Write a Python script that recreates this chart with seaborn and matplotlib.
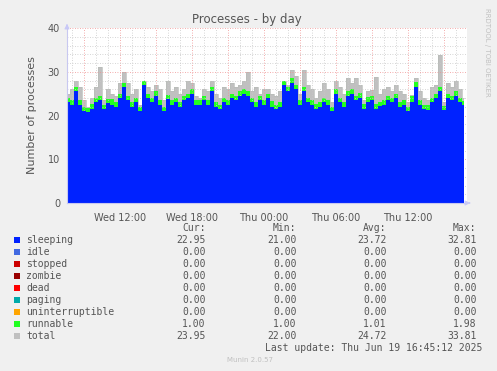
import numpy as np
import pandas as pd
import matplotlib
matplotlib.use("Agg")
import matplotlib.pyplot as plt
import matplotlib.dates as mdates
import seaborn as sns

# ---- data (20-minute samples) ----
sleeping = [23.0, 22.5, 25.5, 22.5, 21.0, 20.8, 21.5, 23.0, 23.5, 21.5,
            22.8, 22.5, 22.0, 24.0, 26.5, 23.5, 22.0, 23.0, 21.0, 27.0,
            24.0, 23.0, 24.5, 22.5, 21.0, 23.7, 22.5, 23.0, 22.0, 23.5,
            24.0, 25.0, 22.3, 22.3, 23.5, 22.5, 25.6, 22.0, 21.5, 23.0,
            22.5, 24.0, 23.5, 24.5, 25.0, 24.5, 23.0, 22.0, 23.5, 22.5,
            24.0, 22.0, 21.5, 22.0, 27.0, 25.5, 27.5, 26.0, 22.5, 25.5,
            23.0, 22.5, 21.6, 22.0, 23.0, 22.5, 21.0, 25.0, 23.0, 22.0,
            24.5, 25.0, 23.5, 24.0, 21.6, 23.0, 23.5, 21.6, 22.2, 22.5,
            23.5, 23.0, 24.0, 22.0, 22.5, 21.0, 23.2, 26.6, 22.5, 21.5,
            21.2, 23.0, 24.0, 25.5, 21.2, 24.0, 23.5, 24.5, 23.0, 22.4]
runnable = [1.0, 1.0, 1.0, 1.0, 1.0, 1.0, 1.2, 1.0, 1.0, 1.0,
            1.0, 1.3, 1.0, 1.0, 1.0, 1.0, 1.0, 1.0, 1.0, 1.0,
            1.0, 1.0, 1.0, 1.0, 1.0, 1.0, 1.0, 1.0, 1.0, 1.0,
            1.0, 1.0, 1.2, 1.2, 1.0, 1.0, 1.0, 1.0, 1.0, 1.0,
            1.0, 1.0, 1.0, 1.0, 1.0, 1.0, 1.0, 1.0, 1.0, 1.0,
            1.0, 1.3, 1.0, 1.0, 1.0, 1.0, 1.0, 1.0, 1.0, 1.0,
            1.0, 1.0, 1.0, 1.2, 1.0, 1.0, 1.0, 1.0, 1.0, 1.0,
            1.0, 1.0, 1.0, 1.2, 1.0, 1.2, 1.0, 1.0, 1.0, 1.0,
            1.0, 1.0, 1.0, 1.0, 1.0, 1.0, 1.3, 1.0, 1.0, 1.0,
            1.2, 1.0, 1.0, 1.0, 1.0, 1.0, 1.0, 1.0, 1.0, 1.0]
total = [25.0, 26.0, 28.0, 26.5, 23.5, 22.0, 24.0, 26.5, 31.0, 23.5,
         26.0, 25.0, 24.5, 27.5, 30.0, 27.5, 25.0, 26.0, 22.5, 28.0,
         26.5, 25.5, 27.0, 26.0, 23.5, 28.0, 25.5, 26.5, 25.0, 26.0,
         28.0, 27.5, 24.5, 24.0, 26.0, 25.5, 28.0, 25.0, 24.0, 26.5,
         26.0, 27.5, 26.5, 27.0, 28.0, 30.0, 25.5, 26.5, 25.0, 26.0,
         26.0, 25.0, 24.5, 25.5, 28.0, 27.0, 30.5, 29.0, 25.0, 30.5,
         27.0, 26.0, 24.0, 25.5, 27.5, 26.0, 23.0, 28.0, 26.5, 25.0,
         28.5, 27.5, 28.5, 27.0, 23.5, 25.5, 25.8, 28.9, 25.0, 26.0,
         26.5, 25.5, 27.0, 25.5, 25.0, 23.0, 24.8, 28.5, 25.5, 24.0,
         23.5, 26.5, 27.0, 33.8, 23.0, 27.5, 26.5, 28.0, 26.0, 23.95]
times = pd.date_range("2025-06-18 07:40", periods=len(sleeping), freq="20min")

names = ["sleeping", "idle", "stopped", "zombie", "dead", "paging",
         "uninterruptible", "runnable", "total"]
colors = ["#0022ff", "#4169e1", "#cc0000", "#990000", "#ff0000", "#00aaaa",
          "#ffa500", "#22ff22", "#c0c0c0"]
cur = ["22.95", "0.00", "0.00", "0.00", "0.00", "0.00", "0.00", "1.00", "23.95"]
mins = ["21.00", "0.00", "0.00", "0.00", "0.00", "0.00", "0.00", "1.00", "22.00"]
avgs = ["23.72", "0.00", "0.00", "0.00", "0.00", "0.00", "0.00", "1.01", "24.72"]
maxs = ["32.81", "0.00", "0.00", "0.00", "0.00", "0.00", "0.00", "1.98", "33.81"]

df = pd.DataFrame({"time": times, "sleeping": sleeping,
                   "runnable": runnable, "total": total})
df["stack"] = df["sleeping"] + df["runnable"]

sns.set_style("white")
plt.rcParams["font.family"] = ["DejaVu Sans"]

BG = "#f0f0f0"
TXT = "#555555"
fig = plt.figure(figsize=(4.97, 3.71), dpi=100, facecolor=BG)
ax = fig.add_axes([67 / 497, 1 - 203 / 371, 400 / 497, 175 / 371])
ax.set_facecolor("white")

# areas (munin-like stepped columns)
ax.fill_between(df["time"], 0, df["total"], color=colors[8], lw=0, zorder=1,
                step="mid")
ax.fill_between(df["time"], df["sleeping"], df["stack"], color=colors[7], lw=0,
                zorder=2, step="mid")
ax.fill_between(df["time"], 0, df["sleeping"], color=colors[0], lw=0, zorder=3,
                step="mid")
sns.lineplot(data=df, x="time", y="total", ax=ax, color="#b8bcb8", lw=0.5,
             zorder=1.5, drawstyle="steps-mid")

x0 = pd.Timestamp("2025-06-18 07:36")
x1 = pd.Timestamp("2025-06-19 16:56")
ax.set_xlim(x0, x1)
ax.set_ylim(0, 40)

# grid (drawn above data, munin style)
ax.xaxis.set_major_locator(mdates.HourLocator(byhour=range(0, 24, 3)))
ax.xaxis.set_minor_locator(mdates.HourLocator())
ax.set_yticks([0, 10, 20, 30, 40])
ax.set_yticks(np.arange(0, 41, 2), minor=True)
ax.grid(which="minor", color="#c8c8c8", ls=(0, (1, 2)), lw=0.6, zorder=5)
ax.grid(which="major", color="#f09090", ls=(0, (1, 2)), lw=0.6, zorder=6)
ax.set_axisbelow(False)

# tick labels every 6h
def fmt(v, pos):
    d = mdates.num2date(v)
    if d.hour % 6 == 0:
        return d.strftime("%a %H:%M")
    return ""
ax.xaxis.set_major_formatter(plt.FuncFormatter(fmt))
ax.tick_params(axis="both", which="both", labelsize=7, colors="#aaaaaa",
               labelcolor=TXT, length=2, width=0.6)
ax.tick_params(axis="x", which="major", pad=5, colors="#f08080", labelcolor=TXT)
ax.tick_params(axis="y", which="major", pad=3)

for s in ["top", "right"]:
    ax.spines[s].set_visible(False)
for s in ["left", "bottom"]:
    ax.spines[s].set_color("#c8c8f0")
    ax.spines[s].set_linewidth(0.8)
    ax.spines[s].set_zorder(7)
ax.set_xlabel("")
ax.set_ylabel("Number of processes", fontsize=8, color=TXT, labelpad=8)

# arrows at axis ends
ax.annotate("", xy=(0, 1.04), xytext=(0, 0.995), xycoords="axes fraction",
            arrowprops=dict(arrowstyle="-|>", color="#c8c8f8", lw=0.8,
                            mutation_scale=7), annotation_clip=False)
ax.annotate("", xy=(1.015, 0), xytext=(0.999, 0), xycoords="axes fraction",
            arrowprops=dict(arrowstyle="-|>", color="#c8c8f8", lw=0.8,
                            mutation_scale=7), annotation_clip=False)

# title & side text
fig.text(247 / 497, 1 - 19 / 371, "Processes - by day", ha="center", va="center",
         fontsize=8.5, color=TXT)
fig.text(487 / 497, 1 - 52 / 371, "RRDTOOL / TOBI OETIKER", ha="center",
         va="center", rotation=270, fontsize=5, color="#c0c0c0")

# legend table
mono = "DejaVu Sans Mono"
def fy(py):
    return 1 - py / 371
colx = [205.5, 296.5, 386.5, 476.5]
for cx, h in zip(colx, ["Cur:", "Min:", "Avg:", "Max:"]):
    fig.text(cx / 497, fy(228), h, ha="right", va="center", family=mono,
             fontsize=7, color=TXT)
for i, n in enumerate(names):
    py = 240 + 12 * i
    fig.patches.append(plt.Rectangle((14 / 497, fy(py + 3)), 6 / 497, 6 / 371,
                                     transform=fig.transFigure,
                                     facecolor=colors[i], edgecolor="none"))
    fig.text(26 / 497, fy(py), n, ha="left", va="center", family=mono,
             fontsize=7, color=TXT)
    for cx, vals in zip(colx, [cur, mins, avgs, maxs]):
        fig.text(cx / 497, fy(py), vals[i], ha="right", va="center",
                 family=mono, fontsize=7, color=TXT)
fig.text(482 / 497, fy(348), "Last update: Thu Jun 19 16:45:12 2025",
         ha="right", va="center", family=mono, fontsize=7, color=TXT)
fig.text(250 / 497, fy(360), "Munin 2.0.57", ha="center", va="center",
         fontsize=5, color="#c0c0c0")

fig.savefig("out.png", dpi=100, facecolor=BG)
